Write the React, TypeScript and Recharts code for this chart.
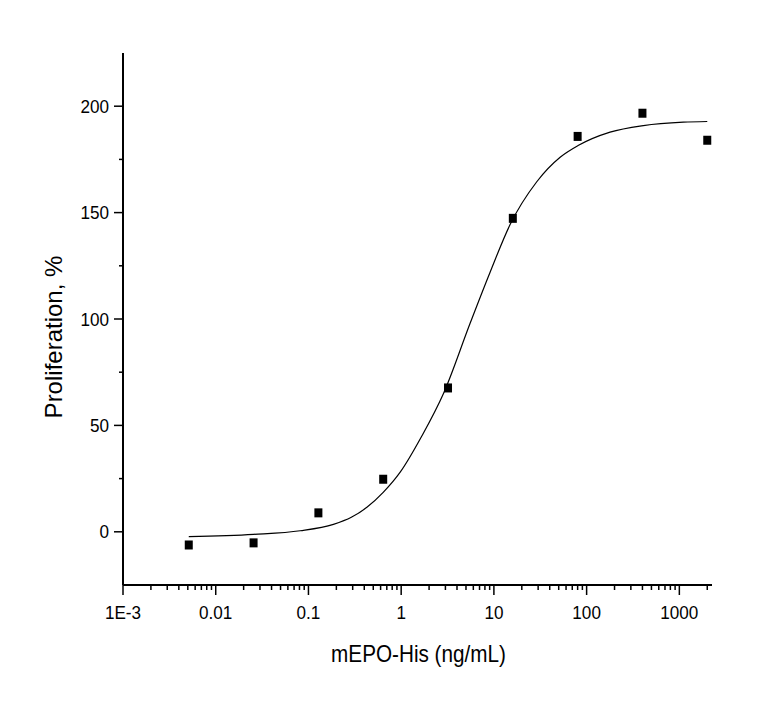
import { ComposedChart, Label, Line, Scatter, XAxis, YAxis } from "recharts";

// measured points (5-fold dilution series)
const doses = [0.00512, 0.0256, 0.128, 0.64, 3.2, 16, 80, 400, 2000];
const proliferation = [-6.2, -5.2, 8.9, 24.7, 67.6, 147.3, 185.8, 196.7, 184.0];

// fitted curve
const fitDoses = [
  0.00512, 0.0256, 0.0815, 0.186, 0.29, 0.427, 0.64, 0.976, 1.67, 2.86, 5.54, 9.1, 15, 29,
  51.8, 80.9, 179, 409, 1104, 2000,
];
const fitValues = [
  -2.3, -1.2, 0.5, 3.5, 6.8, 11.5, 18.5, 28, 45, 65, 98, 122, 144.5, 164.5, 176, 181.5, 187.8,
  190.9, 192.5, 192.8,
];

const xMajorTicks = [0.001, 0.01, 0.1, 1, 10, 100, 1000];
const xMajorLabels = ["1E-3", "0.01", "0.1", "1", "10", "100", "1000"];
const xMinorSteps = [2, 3, 4, 5, 6, 7, 8, 9];
const xEndTick = 2000;

const yMajorTicks = [0, 50, 100, 150, 200];
const yMinorTicks = [25, 75, 125, 175];

const FONT = '"Liberation Sans", Arial, sans-serif';

const points = doses.map((x, i) => ({ x, y: proliferation[i] }));
const curve = fitDoses.map((x, i) => ({ x, y: fitValues[i] }));

const xMinorTicks = xMajorTicks
  .slice(0, -1)
  .flatMap((d) => xMinorSteps.map((m) => Number((d * m).toPrecision(3))));
const xTicks = [...xMajorTicks, ...xMinorTicks, xEndTick].sort((a, b) => a - b);
const yTicks = [...yMajorTicks, ...yMinorTicks].sort((a, b) => a - b);

function majorIndex(v: number) {
  return xMajorTicks.findIndex((m) => Math.abs(m - v) / m < 1e-6);
}

function XTick(props: any) {
  const { x, y, payload } = props;
  const idx = majorIndex(payload.value);
  const major = idx >= 0;
  return (
    <g>
      <line x1={x} x2={x} y1={y} y2={y + (major ? 10 : 5)} stroke="#000" strokeWidth={1.5} />
      {major && (
        <text
          transform={`translate(${x},${y + 33.5}) scale(0.9,1)`}
          textAnchor="middle"
          fontSize={19}
          fontFamily={FONT}
          fill="#000"
        >
          {xMajorLabels[idx]}
        </text>
      )}
    </g>
  );
}

function YTick(props: any) {
  const { x, y, payload } = props;
  const major = yMajorTicks.includes(payload.value);
  return (
    <g>
      <line x1={x} x2={x - (major ? 9 : 4)} y1={y} y2={y} stroke="#000" strokeWidth={1.5} />
      {major && (
        <text
          transform={`translate(${x - 14},${y + 6.5}) scale(0.9,1)`}
          textAnchor="end"
          fontSize={19}
          fontFamily={FONT}
          fill="#000"
        >
          {payload.value}
        </text>
      )}
    </g>
  );
}

function XTitle(props: any) {
  const { x, y, width } = props.viewBox;
  return (
    <text
      transform={`translate(${x + width / 2 + 1},${y + 77}) scale(0.9,1)`}
      textAnchor="middle"
      fontSize={23}
      fontFamily={FONT}
      fill="#000"
    >
      mEPO-His (ng/mL)
    </text>
  );
}

function YTitle(props: any) {
  const { x, y } = props.viewBox;
  return (
    <text
      transform={`translate(${x + 54},${y + 284}) rotate(-90)`}
      textAnchor="middle"
      fontSize={24}
      fontFamily={FONT}
      fill="#000"
    >
      Proliferation, %
    </text>
  );
}

function SquareMarker(props: any) {
  const { cx, cy } = props;
  return <rect x={cx - 4} y={cy - 4.5} width={8} height={9} fill="#000" />;
}

export default function App() {
  return (
    <div style={{ width: 741, height: 705, background: "#fff" }}>
      <ComposedChart
        width={741}
        height={705}
        margin={{ top: 45, right: 37, left: 0, bottom: 38 }}
      >
        <XAxis
          dataKey="x"
          type="number"
          scale="log"
          domain={[0.001, 2250]}
          allowDataOverflow
          ticks={xTicks}
          interval={0}
          tickSize={0}
          tickMargin={0}
          tickLine={false}
          tick={(p: any) => <XTick {...p} />}
          axisLine={{ stroke: "#000", strokeWidth: 2 }}
          height={90}
        >
          <Label content={XTitle} />
        </XAxis>
        <YAxis
          dataKey="y"
          type="number"
          domain={[-25, 225]}
          allowDataOverflow
          ticks={yTicks}
          interval={0}
          tickSize={0}
          tickMargin={0}
          tickLine={false}
          tick={(p: any) => <YTick {...p} />}
          axisLine={{ stroke: "#000", strokeWidth: 2 }}
          width={115}
        >
          <Label content={YTitle} />
        </YAxis>
        <Line
          data={curve}
          dataKey="y"
          type="monotone"
          stroke="#000"
          strokeWidth={1.2}
          dot={false}
          activeDot={false}
          isAnimationActive={false}
        />
        <Scatter data={points} dataKey="y" shape={SquareMarker} isAnimationActive={false} />
      </ComposedChart>
    </div>
  );
}
